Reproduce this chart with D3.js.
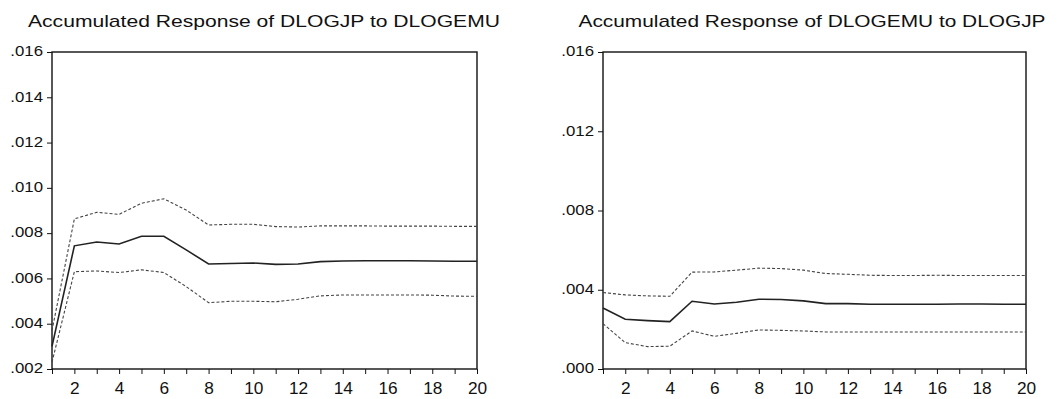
<!DOCTYPE html>
<html lang="en">
<head>
    <meta charset="UTF-8">
    <title>Accumulated Responses</title>
    <script src="https://d3js.org/d3.v7.min.js"></script>
    <style>
        body {
            margin: 0;
            background: #fff;
            font-family: Arial, "Liberation Sans", sans-serif;
        }

        .title {
            font-size: 17px;
            text-anchor: middle;
            fill: #111;
        }

        .axis text {
            fill: #111;
            font-family: Arial, "Liberation Sans", sans-serif;
        }

        .xaxis text { font-size: 16px; }
        .yaxis text { font-size: 15px; }

        .axis path, .axis line {
            stroke: #111;
        }
    </style>
</head>
<body>
    <div id="chart"></div>
    <script>
        // horizon periods
        const periods = d3.range(1, 21);

        // Accumulated response of DLOGJP to DLOGEMU
        const jpResp = [0.00300, 0.00744, 0.00761, 0.00752, 0.00786, 0.00786, 0.00726, 0.00664, 0.00666, 0.00668,
                        0.00662, 0.00664, 0.00674, 0.00677, 0.00678, 0.00678, 0.00678, 0.00677, 0.00676, 0.00676];
        const jpUpper = [0.00370, 0.00863, 0.00892, 0.00883, 0.00932, 0.00952, 0.00902, 0.00836, 0.00839, 0.00839,
                         0.00829, 0.00827, 0.00832, 0.00832, 0.00832, 0.00831, 0.00831, 0.00831, 0.00830, 0.00830];
        const jpLower = [0.00230, 0.00630, 0.00633, 0.00626, 0.00638, 0.00626, 0.00564, 0.00493, 0.00499, 0.00499,
                         0.00497, 0.00508, 0.00523, 0.00527, 0.00527, 0.00527, 0.00527, 0.00526, 0.00522, 0.00521];

        // Accumulated response of DLOGEMU to DLOGJP
        const emuResp = [0.00308, 0.00251, 0.00244, 0.00239, 0.00342, 0.00328, 0.00337, 0.00352, 0.00351, 0.00344,
                         0.00330, 0.00330, 0.00327, 0.00327, 0.00327, 0.00327, 0.00328, 0.00328, 0.00327, 0.00327];
        const emuUpper = [0.00386, 0.00374, 0.00369, 0.00367, 0.00489, 0.00490, 0.00499, 0.00509, 0.00507, 0.00499,
                          0.00482, 0.00478, 0.00473, 0.00472, 0.00472, 0.00473, 0.00472, 0.00472, 0.00472, 0.00472];
        const emuLower = [0.00229, 0.00133, 0.00113, 0.00115, 0.00192, 0.00165, 0.00180, 0.00197, 0.00195, 0.00192,
                          0.00187, 0.00187, 0.00187, 0.00187, 0.00187, 0.00187, 0.00187, 0.00187, 0.00187, 0.00187];

        const jpTicks = [0.002, 0.004, 0.006, 0.008, 0.010, 0.012, 0.014, 0.016];
        const emuTicks = [0.000, 0.004, 0.008, 0.012, 0.016];

        const panels = [
            { title: "Accumulated Response of DLOGJP to DLOGEMU", left: 52, right: 477, titleX: 264, titleW: 472,
              yDomain: [0.002, 0.016], yTicks: jpTicks, mid: jpResp, up: jpUpper, lo: jpLower },
            { title: "Accumulated Response of DLOGEMU to DLOGJP", left: 603, right: 1026, titleX: 812, titleW: 467,
              yDomain: [0.000, 0.016], yTicks: emuTicks, mid: emuResp, up: emuUpper, lo: emuLower }
        ];

        const W = 1058, H = 399;
        const plotTop = 52, plotBottom = 369;
        const xStretch = 1.08, yStretch = 1.12;

        const svg = d3.select("#chart")
            .append("svg")
            .attr("width", W)
            .attr("height", H);

        const fmt = v => d3.format(".3f")(v).replace(/^0/, "");

        panels.forEach(p => {
            const x = d3.scaleLinear().domain([1, 20]).range([p.left, p.right]);
            const y = d3.scaleLinear().domain(p.yDomain).range([plotBottom, plotTop]);

            svg.append("text")
                .attr("class", "title")
                .attr("x", p.titleX)
                .attr("y", 27)
                .attr("textLength", p.titleW)
                .attr("lengthAdjust", "spacingAndGlyphs")
                .text(p.title);

            // frame
            svg.append("rect")
                .attr("x", p.left)
                .attr("y", plotTop)
                .attr("width", p.right - p.left)
                .attr("height", plotBottom - plotTop)
                .attr("fill", "none")
                .attr("stroke", "#111")
                .attr("stroke-width", 1.4);

            const xAxis = d3.axisBottom(x)
                .tickValues(periods)
                .tickSize(5)
                .tickPadding(9)
                .tickFormat(d => d % 2 === 0 ? d : "");

            svg.append("g")
                .attr("class", "axis xaxis")
                .attr("transform", `translate(0,${plotBottom})`)
                .call(xAxis)
                .call(g => g.select(".domain").remove())
                .call(g => g.selectAll(".tick text").attr("transform", `scale(${xStretch},1)`));

            const yAxis = d3.axisLeft(y)
                .tickValues(p.yTicks)
                .tickSize(5)
                .tickPadding(4)
                .tickFormat(fmt);

            svg.append("g")
                .attr("class", "axis yaxis")
                .attr("transform", `translate(${p.left},0)`)
                .call(yAxis)
                .call(g => g.select(".domain").remove())
                .call(g => g.selectAll(".tick text")
                    .attr("x", -9 / yStretch)
                    .attr("dy", "0.25em")
                    .attr("transform", `scale(${yStretch},1)`));

            const line = d3.line()
                .x((d, i) => x(periods[i]))
                .y(d => y(d));

            svg.append("path")
                .datum(p.up)
                .attr("d", line)
                .attr("fill", "none")
                .attr("stroke", "#444")
                .attr("stroke-width", 1.1)
                .attr("stroke-dasharray", "3,2");

            svg.append("path")
                .datum(p.lo)
                .attr("d", line)
                .attr("fill", "none")
                .attr("stroke", "#444")
                .attr("stroke-width", 1.1)
                .attr("stroke-dasharray", "3,2");

            svg.append("path")
                .datum(p.mid)
                .attr("d", line)
                .attr("fill", "none")
                .attr("stroke", "#222")
                .attr("stroke-width", 1.6);
        });
    </script>
</body>
</html>
